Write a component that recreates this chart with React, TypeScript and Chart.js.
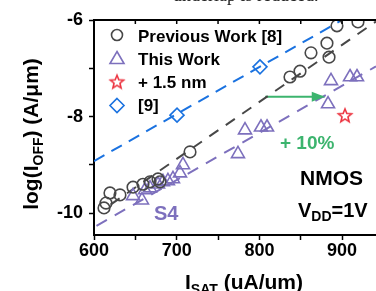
import React, { useEffect, useRef } from 'react';
import { Chart, registerables } from 'chart.js';

Chart.register(...registerables);

// ---------- data ----------
const prevX = [612.1, 614.5, 619.3, 631.4, 647.2, 659.2, 667.7, 677.4, 679.8, 716.1, 837.0, 849.1, 862.4, 881.7, 884.2, 893.8, 919.2];
const prevY = [-9.89, -9.79, -9.58, -9.62, -9.46, -9.40, -9.35, -9.29, -9.35, -8.73, -7.18, -7.06, -6.68, -6.48, -6.77, -6.12, -6.04];

const thisX = [647.2, 658.0, 661.7, 667.7, 677.4, 683.4, 689.4, 695.5, 704.0, 707.6, 774.1, 782.6, 801.9, 809.2, 883.0, 886.6, 909.6, 918.0];
const thisY = [-9.64, -9.73, -9.52, -9.48, -9.40, -9.35, -9.33, -9.29, -9.17, -9.00, -8.77, -8.28, -8.22, -8.22, -7.74, -7.26, -7.18, -7.18];

const starX = [903.5];
const starY = [-7.97];

const ref9X = [700.4, 800.7];
const ref9Y = [-7.97, -6.97];

const blueFitX = [600, 900];
const blueFitY = [-8.92, -6.0];
const greyFitX = [620, 941];
const greyFitY = [-9.82, -6.03];
const purpleFitX = [603, 941];
const purpleFitY = [-10.26, -6.96];

const arrowX = [807, 879];
const arrowY = [-7.59, -7.59];

const xLabelTicks = [600, 700, 800, 900];
const yLabelTicks = [-6, -8, -10];

const legendLabels = ['Previous Work [8]', 'This Work', '+ 1.5 nm', '[9]'];
const gainText = '+ 10%';
const deviceText = 'NMOS';
const captionText = 'underlap is reduced.';

// ---------- styles ----------
const GREY = '#474747';
const PURPLE = '#7d70bd';
const BLUE = '#1a72e0';
const RED = '#ec3440';
const GREEN = '#3cb46e';
const FONT = 'Arial, "Liberation Sans", sans-serif';

function starPath(ctx: CanvasRenderingContext2D, cx: number, cy: number, R: number, r: number) {
  ctx.beginPath();
  for (let i = 0; i < 10; i++) {
    const rad = i % 2 === 0 ? R : r;
    const a = -Math.PI / 2 + (i * Math.PI) / 5;
    const x = cx + rad * Math.cos(a);
    const y = cy + rad * Math.sin(a);
    if (i === 0) ctx.moveTo(x, y);
    else ctx.lineTo(x, y);
  }
  ctx.closePath();
}

function makeStar(): HTMLCanvasElement {
  const s = 18;
  const c = document.createElement('canvas');
  c.width = s;
  c.height = s;
  const ctx = c.getContext('2d')!;
  starPath(ctx, s / 2, s / 2 + 0.8, 7, 3.1);
  ctx.strokeStyle = RED;
  ctx.lineWidth = 1.6;
  ctx.lineJoin = 'miter';
  ctx.stroke();
  return c;
}

type Part = { t: string; sub?: boolean };

function drawRich(ctx: CanvasRenderingContext2D, parts: Part[], x: number, y: number, size: number, align: 'left' | 'center', color: string) {
  const subSize = Math.round(size * 0.68);
  let total = 0;
  const widths = parts.map((p) => {
    ctx.font = `bold ${p.sub ? subSize : size}px ${FONT}`;
    const w = ctx.measureText(p.t).width;
    total += w;
    return w;
  });
  let cx = align === 'center' ? x - total / 2 : x;
  ctx.fillStyle = color;
  ctx.textAlign = 'left';
  ctx.textBaseline = 'alphabetic';
  parts.forEach((p, i) => {
    ctx.font = `bold ${p.sub ? subSize : size}px ${FONT}`;
    ctx.fillText(p.t, cx, p.sub ? y + size * 0.22 : y);
    cx += widths[i];
  });
}

export default function App() {
  const canvasRef = useRef<HTMLCanvasElement | null>(null);

  useEffect(() => {
    const canvas = canvasRef.current;
    if (!canvas) return;
    const starImg = makeStar();

    const decor = {
      id: 'decor',
      afterDraw(chart: any) {
        const ctx: CanvasRenderingContext2D = chart.ctx;
        const { left, right, top } = chart.chartArea;
        const xs = chart.scales.x;
        const ys = chart.scales.y;
        ctx.save();

        // top frame with inward ticks
        ctx.strokeStyle = '#000';
        ctx.lineWidth = 2;
        ctx.beginPath();
        ctx.moveTo(left - 1, top);
        ctx.lineTo(right, top);
        ctx.stroke();
        ctx.lineWidth = 1.5;
        xs.ticks.forEach((t: any) => {
          const px = xs.getPixelForValue(t.value);
          if (px <= left + 1) return;
          ctx.beginPath();
          ctx.moveTo(px, top);
          ctx.lineTo(px, top + 4);
          ctx.stroke();
        });

        // arrow head
        const ax = xs.getPixelForValue(arrowX[1]);
        const ay = ys.getPixelForValue(arrowY[1]);
        ctx.fillStyle = GREEN;
        ctx.beginPath();
        ctx.moveTo(ax, ay);
        ctx.lineTo(ax - 13, ay - 5);
        ctx.lineTo(ax - 13, ay + 5);
        ctx.closePath();
        ctx.fill();

        // legend
        const lx = 117;
        const rows = [35, 58.5, 81.5, 105.5];
        ctx.lineWidth = 1.6;
        ctx.strokeStyle = GREY;
        ctx.beginPath();
        ctx.arc(lx, rows[0], 5.5, 0, Math.PI * 2);
        ctx.stroke();
        ctx.strokeStyle = PURPLE;
        ctx.beginPath();
        ctx.moveTo(lx, rows[1] - 7);
        ctx.lineTo(lx + 7, rows[1] + 5);
        ctx.lineTo(lx - 7, rows[1] + 5);
        ctx.closePath();
        ctx.stroke();
        ctx.drawImage(starImg, lx - 9, rows[2] - 9);
        ctx.strokeStyle = BLUE;
        ctx.beginPath();
        ctx.moveTo(lx, rows[3] - 7);
        ctx.lineTo(lx + 7, rows[3]);
        ctx.lineTo(lx, rows[3] + 7);
        ctx.lineTo(lx - 7, rows[3]);
        ctx.closePath();
        ctx.stroke();

        ctx.fillStyle = '#000';
        ctx.font = `bold 17px ${FONT}`;
        ctx.textAlign = 'left';
        ctx.textBaseline = 'alphabetic';
        const base = [42, 65, 88, 111];
        legendLabels.forEach((s, i) => ctx.fillText(s, 138, base[i]));

        // annotations
        ctx.fillStyle = GREEN;
        ctx.font = `bold 19px ${FONT}`;
        ctx.fillText(gainText, 280, 149);
        ctx.fillStyle = '#000';
        ctx.font = `bold 21px ${FONT}`;
        ctx.fillText(deviceText, 300, 185);
        drawRich(ctx, [{ t: 'V' }, { t: 'DD', sub: true }, { t: '=1V' }], 298, 217, 20, 'left', '#000');
        ctx.fillStyle = PURPLE;
        ctx.font = `bold 20px ${FONT}`;
        ctx.fillText('S4', 154, 220);

        // axis titles
        drawRich(ctx, [{ t: 'I' }, { t: 'SAT', sub: true }, { t: ' (uA/um)' }], 244, 289, 21, 'center', '#000');
        ctx.save();
        ctx.translate(38, 134);
        ctx.rotate(-Math.PI / 2);
        drawRich(ctx, [{ t: 'log(I' }, { t: 'OFF', sub: true }, { t: ') (A/\u03bcm)' }], 0, 0, 21, 'center', '#000');
        ctx.restore();

        // caption fragment from page above
        ctx.fillStyle = '#222';
        ctx.font = '18px "Liberation Serif", "Times New Roman", serif';
        ctx.textAlign = 'left';
        ctx.textBaseline = 'alphabetic';
        ctx.fillText(captionText, 173, 0.5);

        ctx.restore();
      },
    };

    const pts = (xs: number[], ys: number[]) => xs.map((x, i) => ({ x, y: ys[i] }));

    const chart = new Chart(canvas, {
      type: 'scatter',
      data: {
        datasets: [
          {
            label: 'Previous Work [8]',
            data: pts(prevX, prevY),
            pointStyle: 'circle',
            pointRadius: 5.8,
            borderColor: GREY,
            backgroundColor: 'rgba(0,0,0,0)',
            borderWidth: 1.6,
            order: 1,
          },
          {
            label: 'This Work',
            data: pts(thisX, thisY),
            pointStyle: 'triangle',
            pointRadius: 7.5,
            borderColor: PURPLE,
            backgroundColor: 'rgba(0,0,0,0)',
            borderWidth: 1.6,
            order: 1,
          },
          {
            label: '+ 1.5 nm',
            data: pts(starX, starY),
            pointStyle: starImg as any,
            pointRadius: 7,
            borderColor: RED,
            backgroundColor: 'rgba(0,0,0,0)',
            order: 1,
          },
          {
            label: '[9]',
            data: pts(ref9X, ref9Y),
            pointStyle: 'rectRot',
            pointRadius: 7,
            borderColor: BLUE,
            backgroundColor: 'rgba(0,0,0,0)',
            borderWidth: 1.6,
            order: 1,
          },
          {
            label: 'fit9',
            data: pts(blueFitX, blueFitY),
            showLine: true,
            pointRadius: 0,
            borderColor: BLUE,
            borderWidth: 2,
            borderDash: [12, 8],
            order: 2,
          },
          {
            label: 'fit8',
            data: pts(greyFitX, greyFitY),
            showLine: true,
            pointRadius: 0,
            borderColor: GREY,
            borderWidth: 2,
            borderDash: [11, 9],
            order: 2,
          },
          {
            label: 'fitThis',
            data: pts(purpleFitX, purpleFitY),
            showLine: true,
            pointRadius: 0,
            borderColor: PURPLE,
            borderWidth: 2,
            borderDash: [12, 9],
            order: 2,
          },
          {
            label: 'arrow',
            data: pts(arrowX, arrowY),
            showLine: true,
            pointRadius: 0,
            borderColor: GREEN,
            borderWidth: 2,
            order: 2,
          },
        ],
      },
      options: {
        responsive: false,
        animation: false,
        events: [],
        layout: { autoPadding: false, padding: { top: 20, right: 0, left: 0, bottom: 0 } },
        plugins: { legend: { display: false }, tooltip: { enabled: false } },
        scales: {
          x: {
            type: 'linear',
            min: 600,
            max: 941,
            border: { display: true, color: '#000', width: 2 },
            grid: { display: true, drawOnChartArea: false, drawTicks: true, tickLength: 5, tickWidth: 1.5, tickColor: '#000' },
            ticks: {
              stepSize: 50,
              includeBounds: false,
              autoSkip: false,
              maxRotation: 0,
              padding: 0,
              color: '#000',
              font: { family: FONT, size: 18, weight: 'bold' },
              callback: (v: any) => (xLabelTicks.includes(Number(v)) ? String(v) : ''),
            },
            afterFit: (scale: any) => {
              scale.height = 56;
              scale.paddingLeft = 0;
              scale.paddingRight = 0;
            },
          },
          y: {
            type: 'linear',
            min: -10.45,
            max: -6,
            border: { display: true, color: '#000', width: 2 },
            grid: { display: true, drawOnChartArea: false, drawTicks: true, tickLength: 5, tickWidth: 1.5, tickColor: '#000' },
            ticks: {
              stepSize: 1,
              includeBounds: false,
              autoSkip: false,
              padding: 6,
              color: '#000',
              font: { family: FONT, size: 18, weight: 'bold' },
              callback: (v: any) => (yLabelTicks.includes(Number(v)) ? String(v) : ''),
            },
            afterFit: (scale: any) => {
              scale.width = 94;
              scale.paddingTop = 0;
              scale.paddingBottom = 0;
            },
          },
        },
      } as any,
      plugins: [decor],
    });

    return () => chart.destroy();
  }, []);

  return (
    <div style={{ position: 'absolute', left: 0, top: 0, width: 376, height: 291, background: '#fff' }}>
      <canvas ref={canvasRef} width={376} height={291} style={{ display: 'block' }} />
    </div>
  );
}
